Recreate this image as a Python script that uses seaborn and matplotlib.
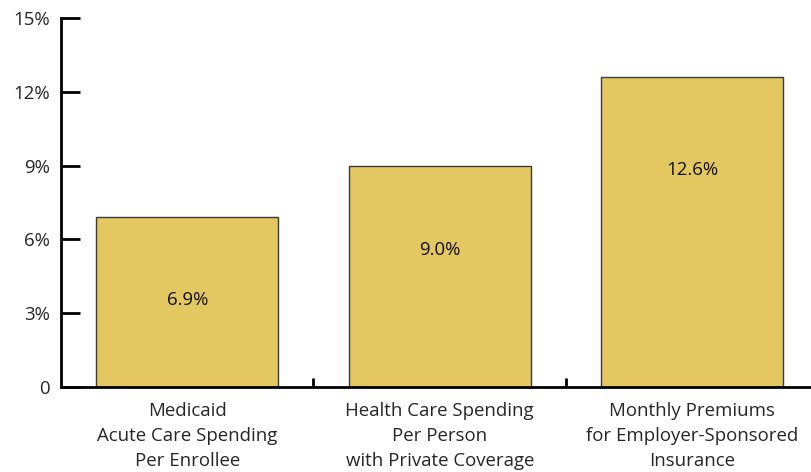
import matplotlib
matplotlib.use("Agg")
import matplotlib.pyplot as plt
import seaborn as sns
import pandas as pd
from matplotlib.ticker import FixedLocator

categories = ["Medicaid\nAcute Care Spending\nPer Enrollee",
              "Health Care Spending\nPer Person\nwith Private Coverage",
              "Monthly Premiums\nfor Employer-Sponsored\nInsurance"]
values = [6.9, 9.0, 12.6]
value_labels = ["6.9%", "9.0%", "12.6%"]
ytick_values = [0, 3, 6, 9, 12, 15]
ytick_labels = ["0", "3%", "6%", "9%", "12%", "15%"]

# label vertical placement (fraction of bar height)
label_frac = [0.51, 0.62, 0.70]

sns.set_style("white")
plt.rcParams['font.family'] = ['Open Sans', 'DejaVu Sans']

FS = 13.4

df = pd.DataFrame({"cat": categories, "val": values})

fig = plt.figure(figsize=(8.12, 4.72), dpi=100)
ax = fig.add_axes([61/812, 1-387/472, (818.5-61)/812, (387-18)/472])

sns.barplot(data=df, x="cat", y="val", color="#E3C862", saturation=1,
            width=0.72, edgecolor="#3a3a3a", linewidth=1, ax=ax)

ax.set_xlim(-0.5, 2.5)
ax.set_ylim(0, 15)
ax.set_yticks(ytick_values)
ax.set_yticklabels(ytick_labels, fontsize=FS)
ax.set_xlabel("")
ax.set_ylabel("")
ax.tick_params(axis='y', which='major', left=True, direction='in', length=14, width=2,
               pad=8, color='black')
ax.tick_params(axis='x', which='major', bottom=True, length=0, pad=11, labelsize=FS)
ax.xaxis.set_minor_locator(FixedLocator([0.5, 1.5]))
ax.tick_params(axis='x', which='minor', bottom=True, direction='in', length=6.5, width=2,
               color='black')
for lbl in ax.get_xticklabels():
    lbl.set_linespacing(1.5)

for s in ["top", "right"]:
    ax.spines[s].set_visible(False)
for s in ["left", "bottom"]:
    ax.spines[s].set_linewidth(2)
    ax.spines[s].set_color("black")

for i, (v, t, f) in enumerate(zip(values, value_labels, label_frac)):
    ax.text(i, v * f, t, ha="center", va="center", fontsize=FS, color="#111111")

fig.savefig("out.png", dpi=100)
